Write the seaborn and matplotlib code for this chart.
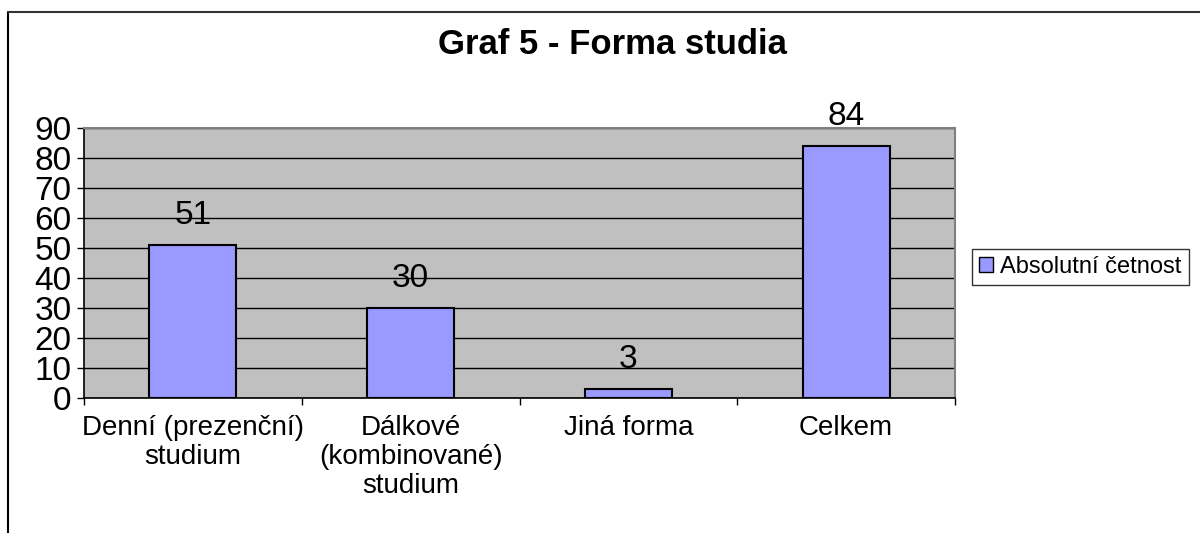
import matplotlib
matplotlib.use("Agg")
import matplotlib.pyplot as plt
from matplotlib.lines import Line2D
from matplotlib.patches import Patch
import seaborn as sns

categories = ["Denní (prezenční)\nstudium", "Dálkové\n(kombinované)\nstudium", "Jiná forma", "Celkem"]
values = [51, 30, 3, 84]
series_name = "Absolutní četnost"
title = "Graf 5 - Forma studia"
y_ticks = list(range(0, 91, 10))

sns.set_style("white")
plt.rcParams["font.family"] = ["Liberation Sans Narrow", "Liberation Sans", "DejaVu Sans"]
plt.rcParams["text.color"] = "black"
plt.rcParams["xtick.color"] = "black"
plt.rcParams["ytick.color"] = "black"

fig = plt.figure(figsize=(12, 5.33), dpi=100)
ax = fig.add_axes([84 / 1200, 1 - 398 / 533, (955 - 84) / 1200, (398 - 128) / 533])
ax.set_facecolor("#C0C0C0")

sns.barplot(x=categories, y=values, color="#9999FF", edgecolor="black",
            linewidth=1.5, width=0.4, saturation=1, ax=ax, zorder=3)

ax.set_ylim(0, 90)
ax.set_xlim(-0.5, 3.5)
ax.set_yticks(y_ticks)
ax.yaxis.grid(True, color="black", linewidth=1, zorder=1)
ax.set_axisbelow(True)
ax.tick_params(axis="y", direction="out", length=5, width=1, labelsize=24, pad=4, left=True)
ax.tick_params(axis="x", which="major", length=0, labelsize=20, pad=12)
ax.set_xticks([-0.5, 0.5, 1.5, 2.5, 3.5], minor=True)
ax.tick_params(axis="x", which="minor", direction="out", length=5, width=1, bottom=True)
for lbl in ax.get_xticklabels():
    lbl.set_linespacing(1.15)
ax.set_xlabel("")
ax.set_ylabel("")

for side in ("left", "bottom"):
    ax.spines[side].set_color("black")
    ax.spines[side].set_linewidth(1.2)
for side in ("top", "right"):
    ax.spines[side].set_color("#808080")
    ax.spines[side].set_linewidth(1.5)

for i, v in enumerate(values):
    ax.annotate(str(v), (i, v), xytext=(0, 10), textcoords="offset points",
                ha="center", va="bottom", fontsize=24)

fig.text(612 / 1200, 1 - 45 / 533, title, ha="center", va="center",
         fontsize=25, fontweight="bold")

handle = Patch(facecolor="#9999FF", edgecolor="black", linewidth=1)
leg = fig.legend([handle], [series_name], loc="center left",
                 bbox_to_anchor=(972 / 1200, 1 - 267 / 533), fontsize=17,
                 frameon=True, fancybox=False, handlelength=0.6, handleheight=0.6,
                 handletextpad=0.3, borderpad=0.3, borderaxespad=0)
leg.get_frame().set_edgecolor("black")
leg.get_frame().set_linewidth(1)

fig.add_artist(Line2D([8 / 1200, 8 / 1200], [0, 1 - 11.5 / 533],
                      transform=fig.transFigure, color="black", linewidth=1.5))
fig.add_artist(Line2D([8 / 1200, 1], [1 - 11.5 / 533, 1 - 11.5 / 533],
                      transform=fig.transFigure, color="#333333", linewidth=1.5))

fig.savefig("out.png", dpi=100)
